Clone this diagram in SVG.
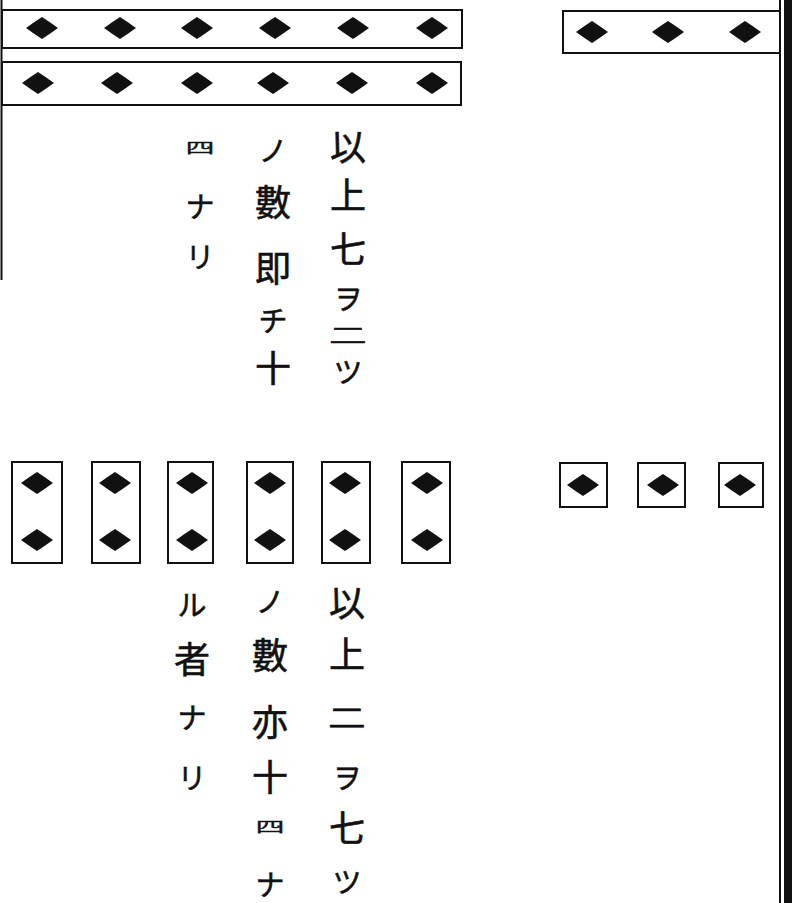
<svg xmlns="http://www.w3.org/2000/svg" width="792" height="903" viewBox="0 0 792 903">
<style>
.box{fill:none;stroke:#111;stroke-width:2}
.dm{fill:#111}
.k{font-family:"Noto Sans CJK JP","Noto Sans CJK SC",sans-serif;font-size:36px;fill:#111;stroke:#111;stroke-width:0.6;text-anchor:middle;dominant-baseline:central}
.kn{font-family:"Noto Sans CJK JP","Noto Sans CJK SC",sans-serif;font-size:29px;fill:#111;stroke:#111;stroke-width:0.5;text-anchor:middle;dominant-baseline:central}
</style>
<defs>
<path id="d" d="M-16,0 Q-7,-6.5 0,-11 Q7,-6.5 16,0 Q7,6.5 0,11 Q-7,6.5 -16,0 Z"/>
</defs>
<rect width="792" height="903" fill="#fff"/>
<g id="borders">
<line x1="1.5" y1="0" x2="1.5" y2="280" stroke="#111" stroke-width="2"/>
<line x1="780" y1="0" x2="780" y2="903" stroke="#111" stroke-width="2"/>
<rect x="784" y="0" width="8" height="903" fill="#111"/>
</g>
<g id="row-top-1">
<rect class="box" x="2" y="10" width="460" height="38"/>
<use href="#d" class="dm" x="42" y="28"/><use href="#d" class="dm" x="120" y="28"/><use href="#d" class="dm" x="197" y="28"/><use href="#d" class="dm" x="275" y="28"/><use href="#d" class="dm" x="353" y="28"/><use href="#d" class="dm" x="432" y="28"/>
</g>
<g id="row-top-2">
<rect class="box" x="2" y="62" width="459" height="43"/>
<use href="#d" class="dm" x="38" y="83"/><use href="#d" class="dm" x="117" y="83"/><use href="#d" class="dm" x="197" y="83"/><use href="#d" class="dm" x="273" y="83"/><use href="#d" class="dm" x="352" y="83"/><use href="#d" class="dm" x="432" y="83"/>
</g>
<g id="row-top-right">
<rect class="box" x="563" y="11" width="217" height="42"/>
<use href="#d" class="dm" x="592" y="32"/><use href="#d" class="dm" x="668" y="32"/><use href="#d" class="dm" x="745" y="32"/>
</g>
<g id="text-top">
<text class="k" x="348" y="145">以</text><text class="k" x="348" y="193">上</text><text class="k" x="348" y="247">七</text><text class="kn" x="348" y="297" font-size="26">ヲ</text><text class="k" x="348" y="334" transform="translate(348 334) scale(1.05 0.6) translate(-348 -334)">二</text><text class="kn" x="348" y="370" font-size="26">ツ</text>
<text class="kn" x="273" y="149">ノ</text><text class="k" x="273" y="200" font-size="42">數</text><text class="k" x="273" y="266" font-size="33">即</text><text class="kn" x="273" y="319">チ</text><text class="k" x="273" y="366" font-size="33">十</text>
<text class="kn" x="200" y="147" font-size="30" transform="translate(200 147) scale(1 0.5) translate(-200 -147)">四</text><text class="kn" x="200" y="205">ナ</text><text class="kn" x="200" y="255" font-size="32">リ</text>
</g>
<g id="row-bottom">
<rect class="box" x="12" y="462" width="50" height="101"/>
<rect class="box" x="92" y="462" width="48" height="101"/>
<rect class="box" x="168" y="462" width="45" height="101"/>
<rect class="box" x="247" y="462" width="46" height="101"/>
<rect class="box" x="322" y="462" width="48" height="101"/>
<rect class="box" x="402" y="462" width="48" height="101"/>
<use href="#d" class="dm" x="37" y="483"/><use href="#d" class="dm" x="37" y="540"/>
<use href="#d" class="dm" x="115" y="483"/><use href="#d" class="dm" x="115" y="540"/>
<use href="#d" class="dm" x="192" y="483"/><use href="#d" class="dm" x="192" y="540"/>
<use href="#d" class="dm" x="270" y="483"/><use href="#d" class="dm" x="270" y="540"/>
<use href="#d" class="dm" x="345" y="483"/><use href="#d" class="dm" x="345" y="540"/>
<use href="#d" class="dm" x="427" y="483"/><use href="#d" class="dm" x="427" y="540"/>
</g>
<g id="row-bottom-right">
<rect class="box" x="560" y="463" width="47" height="44"/>
<rect class="box" x="638" y="463" width="47" height="44"/>
<rect class="box" x="719" y="463" width="44" height="44"/>
<use href="#d" class="dm" x="583" y="485"/><use href="#d" class="dm" x="663" y="485"/><use href="#d" class="dm" x="740" y="485"/>
</g>
<g id="text-bottom">
<text class="k" x="347" y="601">以</text><text class="k" x="347" y="652">上</text><text class="k" x="347" y="716" transform="translate(347 716) scale(1.05 0.75) translate(-347 -716)">二</text><text class="kn" x="347" y="776">ヲ</text><text class="k" x="347" y="826">七</text><text class="kn" x="347" y="880">ツ</text>
<text class="kn" x="270" y="600">ノ</text><text class="k" x="270" y="653" font-size="42">數</text><text class="k" x="270" y="720" font-size="38">亦</text><text class="k" x="270" y="775">十</text><text class="kn" x="270" y="826" font-size="31" transform="translate(270 826) scale(1 0.5) translate(-270 -826)">四</text><text class="kn" x="270" y="883">ナ</text>
<text class="kn" x="192" y="603">ル</text><text class="k" x="192" y="657" font-size="42">者</text><text class="kn" x="192" y="716">ナ</text><text class="kn" x="192" y="776" font-size="34">リ</text>
</g>
</svg>
